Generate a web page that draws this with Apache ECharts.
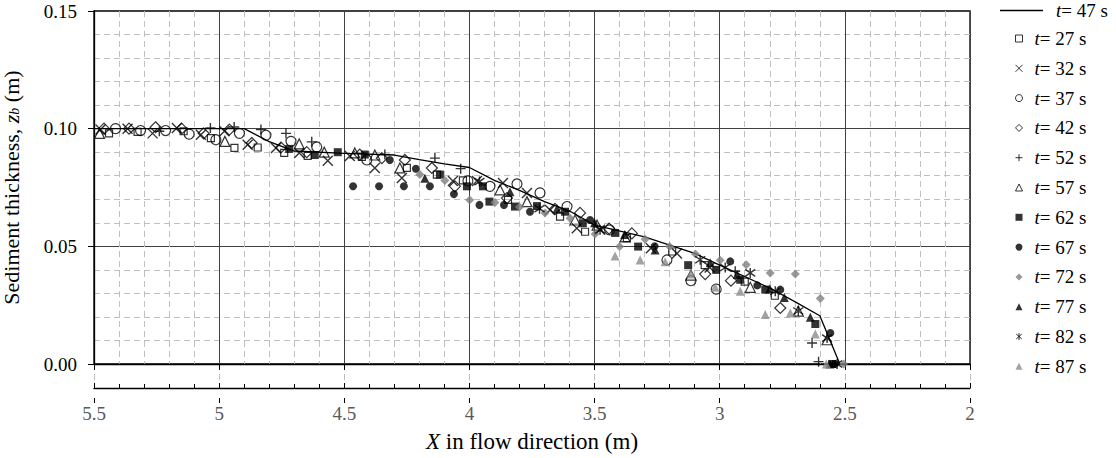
<!DOCTYPE html>
<html><head><meta charset="utf-8">
<script src="https://cdn.jsdelivr.net/npm/echarts@6/dist/echarts.min.js"></script>
<style>html,body{margin:0;padding:0;background:#fff}#c{width:1116px;height:458px}</style>
</head><body><div id="c"></div>
<script>
// ---- axis ranges / ticks ----
const xRange = [2, 5.5];
const xStep = 0.5;
const yRange = [0, 0.15];
const yStep = 0.05;

// ---- series names ----
const lineName = 't= 47 s';
const markerNames = ['t= 27 s','t= 32 s','t= 37 s','t= 42 s','t= 52 s','t= 57 s','t= 62 s','t= 67 s','t= 72 s','t= 77 s','t= 82 s','t= 87 s'];

// ---- data [X (m), z_b (m)] ----
const t47 = [[5.5,0.100],[4.9,0.100],[4.8,0.0945],[4.7,0.0905],[4.5,0.0895],[4.3,0.0888],[4.2,0.0868],[4.1,0.085],[4.0,0.0835],[3.9,0.078],[3.8,0.0738],[3.7,0.069],[3.6,0.065],[3.5,0.059],[3.3,0.054],[3.2,0.0505],[3.1,0.047],[3.0,0.042],[2.8,0.0323],[2.7,0.0265],[2.6,0.0205],[2.52,0.0]];
const t27 = [[5.44,0.098],[5.326,0.0986],[5.142,0.0989],[5.033,0.096],[4.939,0.0918],[4.846,0.092],[4.74,0.0897],[4.646,0.0884],[4.43,0.088],[4.25,0.0833],[4.13,0.0805],[4.026,0.078],[3.846,0.0697],[3.638,0.0626],[3.538,0.0562],[3.371,0.0535],[3.19,0.0478],[3.06,0.042],[2.9,0.035],[2.78,0.029]];
const t32 = [[5.474,0.0996],[5.366,0.100],[5.266,0.098],[5.169,0.1003],[5.073,0.0974],[4.979,0.0989],[4.886,0.0932],[4.773,0.0918],[4.68,0.0897],[4.566,0.0864],[4.478,0.0884],[4.378,0.0833],[4.27,0.079],[4.066,0.0778],[3.97,0.0778],[3.866,0.0769],[3.77,0.0727],[3.678,0.0654],[3.571,0.0577],[3.478,0.057],[3.275,0.0492],[3.171,0.047],[3.04,0.041]];
const t37 = [[5.414,0.100],[5.314,0.0992],[5.214,0.0992],[5.12,0.0977],[5.013,0.0953],[4.919,0.098],[4.813,0.0972],[4.713,0.0946],[4.61,0.0922],[4.41,0.0867],[4.006,0.0778],[3.918,0.0755],[3.81,0.0765],[3.718,0.0727],[3.61,0.0669],[3.44,0.057],[3.211,0.0442],[3.115,0.0354],[3.014,0.0318]];
const t42 = [[5.46,0.100],[5.36,0.100],[5.254,0.1006],[5.15,0.100],[5.062,0.098],[4.959,0.0996],[4.87,0.0939],[4.753,0.092],[4.65,0.090],[4.438,0.089],[4.35,0.0875],[4.258,0.0867],[4.15,0.0833],[4.058,0.0755],[3.85,0.0705],[3.658,0.0659],[3.558,0.0642],[3.442,0.0575],[3.351,0.0555],[3.058,0.0382],[2.955,0.0354],[2.758,0.0238]];
const t52 = [[5.239,0.0989],[5.035,0.1003],[4.94,0.1007],[4.833,0.0996],[4.733,0.098],[4.63,0.0944],[4.338,0.089],[4.138,0.0875],[4.035,0.083],[2.938,0.0394],[2.631,0.0089],[2.605,0.001]];
const t57 = [[5.478,0.098],[4.977,0.0946],[4.68,0.0935],[4.58,0.090],[4.458,0.0897],[4.378,0.0888],[4.278,0.0833],[3.878,0.074],[3.77,0.069],[3.578,0.0612],[3.49,0.059],[3.378,0.054],[3.115,0.0378],[2.878,0.0326],[2.686,0.0225],[2.571,0.0103]];
const t62 = [[4.72,0.0914],[4.618,0.0888],[4.526,0.090],[4.418,0.089],[4.118,0.0805],[4.01,0.0755],[3.946,0.0755],[3.92,0.069],[3.818,0.0669],[3.73,0.0671],[3.618,0.0647],[3.547,0.0598],[3.418,0.0557],[3.326,0.0499],[3.126,0.042],[3.014,0.040],[2.918,0.0358],[2.818,0.0316],[2.618,0.017],[2.551,0.0]];
const t67 = [[4.465,0.0755],[4.361,0.0755],[4.262,0.0755],[4.158,0.0755],[4.318,0.0867],[4.214,0.083],[4.062,0.0722],[3.96,0.0676],[3.862,0.0676],[3.758,0.0647],[3.518,0.0612],[3.26,0.050],[2.958,0.0436],[2.85,0.0334],[2.758,0.0316],[2.558,0.0132],[2.54,0.0]];
const t72 = [[4.198,0.0805],[4.098,0.078],[3.999,0.0697],[3.898,0.0686],[3.80,0.0667],[3.698,0.0642],[3.598,0.0619],[3.498,0.0552],[3.40,0.0499],[3.298,0.053],[3.2,0.0499],[3.097,0.0467],[2.998,0.0441],[2.894,0.0422],[2.798,0.0387],[2.698,0.0382],[2.598,0.0278],[2.505,0.0]];
const t77 = [[4.178,0.0789],[3.838,0.0732],[3.65,0.066],[3.5,0.060],[3.38,0.055],[3.258,0.0484],[3.038,0.043],[2.93,0.038],[2.80,0.032],[2.742,0.0283],[2.638,0.0199],[2.56,0.0]];
const t82 = [[3.96,0.0775],[3.72,0.066],[3.478,0.057],[3.078,0.0443],[2.978,0.041],[2.878,0.0387],[2.778,0.0309],[2.686,0.0225],[2.571,0.011],[2.531,0.0]];
const t87 = [[3.418,0.0459],[3.318,0.0442],[3.218,0.0435],[3.115,0.0382],[3.018,0.0326],[2.918,0.0309],[2.818,0.021],[2.718,0.0217],[2.618,0.0127],[2.574,0.0]];

const markerData = [t27,t32,t37,t42,t52,t57,t62,t67,t72,t77,t82,t87];

// ---- styles ----
const F = 'Liberation Serif';
const hollow = {color:'rgba(0,0,0,0)', borderColor:'#000', borderWidth:1.2};
const strokeOnly = {color:'rgba(0,0,0,0)', borderColor:'#000', borderWidth:1.4};
const styles = [
  {symbol:'rect', size:7, item:hollow},
  {symbol:'path://M0,0L10,10M10,0L0,10', size:10, item:strokeOnly},
  {symbol:'circle', size:10, item:hollow},
  {symbol:'diamond', size:11, item:hollow},
  {symbol:'path://M5,0L5,10M0,5L10,5', size:10, item:strokeOnly},
  {symbol:'triangle', size:10, item:hollow},
  {symbol:'rect', size:8, item:{color:'#000'}},
  {symbol:'circle', size:8, item:{color:'#000'}},
  {symbol:'diamond', size:9, item:{color:'#808080'}},
  {symbol:'triangle', size:9, item:{color:'#000'}},
  {symbol:'path://M1,1.5L9,8.5M9,1.5L1,8.5M5,0L5,10', size:10, item:strokeOnly},
  {symbol:'triangle', size:9, item:{color:'#8c8c8c'}}
];

const txt = (size, color, italic) => ({fontFamily:F, fontSize:size, color:color, fontStyle: italic ? 'italic' : 'normal'});
const legendFmt = n => '{i|t}{n|' + n.slice(1) + '}';
const legendRich = {i:txt(19,'#000',true), n:txt(19,'#000',false)};

const series = [{
  name: lineName, type:'line', data:t47, xAxisIndex:0, yAxisIndex:0,
  showSymbol:false, symbol:'none', lineStyle:{color:'#000', width:1.3}, itemStyle:{color:'#000'}, z:2
}];
markerNames.forEach((n,i)=>{
  series.push({name:n, type:'scatter', data:markerData[i], xAxisIndex:0, yAxisIndex:0,
    symbol:styles[i].symbol, symbolSize:styles[i].size, itemStyle:styles[i].item, z:3});
});

const chart = echarts.init(document.getElementById('c'), null, {renderer:'svg'});
chart.setOption({
  animation:false,
  backgroundColor:'#fff',
  textStyle:{fontFamily:F},
  grid:[
    {left:94, top:11, width:876, height:353, show:true, borderColor:'#000', borderWidth:1.3, backgroundColor:'transparent', containLabel:false, outerBoundsMode:'none'},
    {left:94, top:364, width:876, height:24, containLabel:false, outerBoundsMode:'none'},
    {left:94, top:388, width:876, height:10, containLabel:false, outerBoundsMode:'none'}
  ],
  xAxis:[
    {gridIndex:0, type:'value', min:xRange[0], max:xRange[1], interval:xStep, inverse:true,
     axisLine:{show:true, lineStyle:{color:'#000', width:1.3}},
     axisTick:{show:true, length:6, lineStyle:{color:'#000'}},
     axisLabel:{show:false},
     splitLine:{show:true, lineStyle:{color:'#404040', width:1}},
     minorTick:{show:false, splitNumber:5},
     minorSplitLine:{show:true, lineStyle:{color:'#bfbfbf', type:[6,4], width:1}}},
    {gridIndex:1, type:'value', position:'bottom', min:xRange[0], max:xRange[1], interval:xStep, inverse:true,
     axisLine:{show:true, lineStyle:{color:'#000', width:1.3}},
     axisTick:{show:true, inside:true, length:5, lineStyle:{color:'#000'}},
     minorTick:{show:true, splitNumber:5, length:4, lineStyle:{color:'#000'}},
     axisLabel:{show:true, margin:16, formatter:v=>'{n|'+v+'}', rich:{n:txt(19,'#595959',false)}},
     splitLine:{show:true, lineStyle:{color:'#bfbfbf', type:[6,4]}},
     name:'{i|X}{n| in flow direction (m)}', nameLocation:'middle', nameGap:42,
     nameTextStyle:{fontFamily:F, fontSize:23, color:'#000', rich:{i:txt(23,'#000',true), n:txt(23,'#000',false)}}},
    {gridIndex:2, type:'value', position:'top', min:xRange[0], max:xRange[1], interval:xStep, inverse:true,
     axisLine:{show:false}, axisTick:{show:true, inside:true, length:5, lineStyle:{color:'#000'}},
     axisLabel:{show:false}, splitLine:{show:false}}
  ],
  yAxis:[
    {gridIndex:0, type:'value', min:yRange[0], max:yRange[1], interval:yStep,
     axisLine:{show:true, lineStyle:{color:'#000', width:1.3}},
     axisTick:{show:true, length:6, lineStyle:{color:'#000'}},
     axisLabel:{margin:17, formatter:v=>'{n|'+v.toFixed(2)+'}', rich:{n:txt(19,'#000',false)}},
     splitLine:{show:true, lineStyle:{color:'#404040', width:1}},
     minorTick:{show:false, splitNumber:5},
     minorSplitLine:{show:true, lineStyle:{color:'#bfbfbf', type:[6,4], width:1}},
     name:'{n|Sediment thickness, }{i|z}{s|b}{n| (m)}', nameLocation:'middle', nameRotate:90, nameGap:71,
     nameTextStyle:{fontFamily:F, fontSize:22, color:'#000', rich:{
       n:Object.assign(txt(22,'#000',false), {lineHeight:24}),
       i:Object.assign(txt(22,'#000',true), {lineHeight:24}),
       s:Object.assign(txt(14,'#000',true), {lineHeight:24, padding:[6,0,0,0]})}}},
    {gridIndex:1, type:'value', min:0, max:1, show:false},
    {gridIndex:2, type:'value', min:0, max:1, show:false}
  ],
  legend:[
    {data:[{name:lineName, icon:'rect'}], orient:'vertical', left:995, top:-4, itemWidth:43, itemHeight:1.5,
     formatter:legendFmt, textStyle:{fontFamily:F, fontSize:19, color:'#000', padding:[0,0,0,8], rich:legendRich}},
    {data:markerNames, orient:'vertical', left:1010, top:24, itemWidth:7, itemHeight:7, itemGap:10.8,
     itemStyle:{borderWidth:1}, formatter:legendFmt,
     textStyle:{fontFamily:F, fontSize:19, color:'#000', lineHeight:18, padding:[0,0,0,7], rich:legendRich}}
  ],
  series: series
});
</script></body></html>
